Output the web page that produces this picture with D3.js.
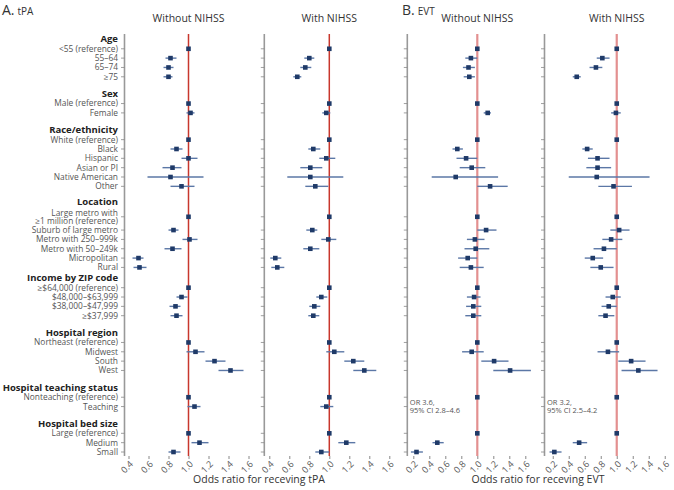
<!DOCTYPE html>
<html><head><meta charset="utf-8">
<script src="https://cdn.jsdelivr.net/npm/d3@7"></script>
<style>body{margin:0;background:#fff}svg{display:block;font-family:"Open Sans",sans-serif}</style>
</head><body>
<svg id="chart" width="674" height="490"></svg>
<script>
// ---------- DATA ----------
const groups = ["Age","Sex","Race/ethnicity","Location","Income by ZIP code","Hospital region","Hospital teaching status","Hospital bed size"];
const items = ["<55 (reference)","55–64","65–74","≥75",
  "Male (reference)","Female",
  "White (reference)","Black","Hispanic","Asian or PI","Native American","Other",
  "Large metro with\n≥1 million (reference)","Suburb of large metro","Metro with 250–999k","Metro with 50–249k","Micropolitan","Rural",
  "≥$64,000 (reference)","$48,000–$63,999","$38,000–$47,999","≥$37,999",
  "Northeast (reference)","Midwest","South","West",
  "Nonteaching (reference)","Teaching",
  "Large (reference)","Medium","Small"];
const itemGroup = [0,0,0,0, 1,1, 2,2,2,2,2,2, 3,3,3,3,3,3, 4,4,4,4, 5,5,5,5, 6,6, 7,7,7];

// tPA without NIHSS
const tpaWoOR = [1,0.82,0.80,0.80, 1,1.02, 1,0.88,1.00,0.84,0.82,0.93, 1,0.85,1.01,0.84,0.50,0.51, 1,0.93,0.87,0.88, 1,1.07,1.26,1.42, 1,1.06, 1,1.11,0.85];
const tpaWoLo = [null,0.77,0.75,0.75, null,0.98, null,0.82,0.93,0.74,0.59,0.82, null,0.80,0.94,0.76,0.44,0.45, null,0.88,0.81,0.82, null,0.98,1.17,1.30, null,0.99, null,1.03,0.80];
const tpaWoHi = [null,0.88,0.85,0.84, null,1.06, null,0.94,1.09,0.93,1.15,1.06, null,0.90,1.09,0.93,0.55,0.58, null,0.99,0.92,0.94, null,1.16,1.37,1.55, null,1.12, null,1.20,0.92];
// tPA with NIHSS
const tpaWiOR = [1,0.80,0.76,0.68, 1,0.97, 1,0.84,0.97,0.81,0.81,0.86, 1,0.83,0.99,0.81,0.46,0.48, 1,0.92,0.85,0.84, 1,1.05,1.24,1.35, 1,0.97, 1,1.17,0.92];
const tpaWiLo = [null,0.75,0.71,0.64, null,0.93, null,0.79,0.90,0.71,0.58,0.76, null,0.77,0.92,0.74,0.41,0.42, null,0.87,0.80,0.79, null,0.97,1.15,1.24, null,0.91, null,1.09,0.86];
const tpaWiHi = [null,0.85,0.82,0.72, null,1.01, null,0.91,1.06,0.93,1.14,0.99, null,0.88,1.07,0.90,0.52,0.55, null,0.98,0.91,0.90, null,1.15,1.35,1.47, null,1.04, null,1.26,1.00];
// EVT without NIHSS
const evtWoOR = [1,0.92,0.89,0.90, 1,1.13, 1,0.75,0.86,0.93,0.73,1.16, 1,1.11,0.97,0.98,0.88,0.92, 1,0.96,0.95,0.95, 1,0.93,1.21,1.41, 1,null, 1,0.50,0.24];
const evtWoLo = [null,0.85,0.82,0.83, null,1.08, null,0.69,0.74,0.78,0.43,1.00, null,1.00,0.87,0.84,0.76,0.78, null,0.87,0.86,0.85, null,0.81,1.05,1.20, null,null, null,0.44,0.17];
const evtWoHi = [null,1.00,0.97,0.97, null,1.17, null,0.82,1.00,1.10,1.26,1.38, null,1.24,1.09,1.15,1.00,1.08, null,1.04,1.05,1.05, null,1.08,1.39,1.67, null,null, null,0.58,0.32];
// EVT with NIHSS
const evtWiOR = [1,0.82,0.74,0.50, 1,0.99, 1,0.63,0.76,0.76,0.75,0.96, 1,1.03,0.93,0.84,0.70,0.80, 1,0.95,0.90,0.86, 1,0.89,1.18,1.27, 1,null, 1,0.53,0.22];
const evtWiLo = [null,0.75,0.66,0.45, null,0.93, null,0.57,0.64,0.62,0.40,0.77, null,0.92,0.82,0.71,0.60,0.67, null,0.86,0.81,0.77, null,0.76,1.02,1.06, null,null, null,0.45,0.16];
const evtWiHi = [null,0.91,0.82,0.55, null,1.05, null,0.70,0.91,0.93,1.41,1.19, null,1.16,1.07,1.00,0.83,0.96, null,1.05,1.00,0.97, null,1.03,1.36,1.51, null,null, null,0.63,0.31];
// off-scale annotations (Teaching row, EVT)
const evtWoNote = ["OR 3.6,","95% CI 2.8–4.6"];
const evtWiNote = ["OR 3.2,","95% CI 2.5–4.2"];

const tpaTicks = [0.4,0.6,0.8,1.0,1.2,1.4,1.6];
const evtTicks = [0.2,0.4,0.6,0.8,1.0,1.2,1.4,1.6];
const panelTitles = ["Without NIHSS","With NIHSS","Without NIHSS","With NIHSS"];
const xTitles = ["Odds ratio for receving tPA","Odds ratio for receving EVT"];

// ---------- LAYOUT ----------
const svg = d3.select("#chart");
const labelX = 118;
const yTop = 34, yBottom = 456;

// raw vertical layout (units), mapped to pixels with a linear scale
const headerRaw = [], itemRaw = [];
{
  let y = 0;
  let prevTwoLine = false;
  groups.forEach((g, gi) => {
    if (gi > 0) y += (gi === 3 ? 15 : gi === 4 ? 10.5 : 17);
    headerRaw.push(y);
    let first = true;
    items.forEach((it, i) => {
      if (itemGroup[i] !== gi) return;
      const two = it.includes("\n");
      if (first) y += two ? 15.5 : 9.8;
      else y += prevTwoLine ? 13.3 : 9.35;
      itemRaw.push(y);
      prevTwoLine = two; first = false;
    });
  });
}
const yS = d3.scaleLinear().domain([0, itemRaw[itemRaw.length-1]]).range([39, 452]);

// headers
svg.append("g").selectAll("text").data(groups).join("text")
  .attr("x", labelX).attr("y", (d,i)=>yS(headerRaw[i])).attr("dy","0.35em")
  .attr("text-anchor","end").attr("font-size",9.5).attr("font-weight",700).attr("fill","#222")
  .text(d=>d);

// item labels
const lab = svg.append("g").selectAll("text").data(items).join("text")
  .attr("text-anchor","end").attr("font-size",8.4).attr("fill","#555")
  .attr("x", labelX).attr("y",(d,i)=>yS(itemRaw[i]));
lab.each(function(d,i){
  const lines = d.split("\n");
  const t = d3.select(this);
  lines.forEach((ln,k)=>{
    t.append("tspan").attr("x",labelX)
     .attr("dy", k===0 ? ((0.35 - (lines.length-1)*0.5)+"em") : "1.0em")
     .text(ln);
  });
});

// panels
const panels = [
  {left:124.5, lo:0.36, hi:1.66, ticks:tpaTicks, or:tpaWoOR, l:tpaWoLo, h:tpaWoHi, ref:"#c8372d", refW:1.5, note:null},
  {left:264.3, lo:0.35, hi:1.65, ticks:tpaTicks, or:tpaWiOR, l:tpaWiLo, h:tpaWiHi, ref:"#c8372d", refW:1.5, note:null},
  {left:407.3, lo:0.125, hi:1.75, ticks:evtTicks, or:evtWoOR, l:evtWoLo, h:evtWoHi, ref:"#e39090", refW:2.2, note:evtWoNote},
  {left:544.5, lo:0.097, hi:1.722, ticks:evtTicks, or:evtWiOR, l:evtWiLo, h:evtWiHi, ref:"#e39090", refW:2.2, note:evtWiNote}
];
const W = 130;

panels.forEach((p, pi) => {
  const x = d3.scaleLinear().domain([p.lo, p.hi]).range([p.left, p.left + W]);
  const g = svg.append("g");
  // panel title
  g.append("text").attr("x", x(1)).attr("y", 22).attr("text-anchor","middle")
    .attr("font-size",10.5).attr("fill","#333").text(panelTitles[pi]);
  // y axis line
  g.append("line").attr("x1",p.left).attr("x2",p.left).attr("y1",yTop).attr("y2",yBottom)
    .attr("stroke","#999").attr("stroke-width",1.6);
  // y ticks
  g.selectAll(".yt").data(items).join("line")
    .attr("x1",p.left-3.5).attr("x2",p.left).attr("y1",(d,i)=>yS(itemRaw[i])).attr("y2",(d,i)=>yS(itemRaw[i]))
    .attr("stroke","#888").attr("stroke-width",0.8);
  // x axis ticks and labels
  const xa = d3.axisBottom(x).tickValues(p.ticks).tickSize(3).tickFormat(d3.format(".1f"));
  const ax = g.append("g").attr("transform",`translate(0,${yBottom})`).call(xa);
  ax.select(".domain").remove();
  ax.selectAll(".tick line").attr("stroke","#888");
  ax.selectAll(".tick text").attr("font-size",9).attr("fill","#555").attr("font-family","Open Sans, sans-serif")
    .attr("text-anchor","end").attr("dy",null).attr("y",null)
    .attr("transform","translate(3,7) rotate(-45)").attr("dominant-baseline","middle");
  // reference line
  g.append("line").attr("x1",x(1)).attr("x2",x(1)).attr("y1",yTop).attr("y2",yBottom)
    .attr("stroke",p.ref).attr("stroke-width",p.refW);
  // CI lines
  g.selectAll(".ci").data(items.map((d,i)=>i).filter(i=>p.l[i]!=null)).join("line")
    .attr("x1",i=>x(p.l[i])).attr("x2",i=>x(p.h[i])).attr("y1",i=>yS(itemRaw[i])).attr("y2",i=>yS(itemRaw[i]))
    .attr("stroke","#5b77a6").attr("stroke-width",1.4);
  // points
  const s = 4.6;
  g.selectAll(".pt").data(items.map((d,i)=>i).filter(i=>p.or[i]!=null)).join("rect")
    .attr("x",i=>x(p.or[i])-s/2).attr("y",i=>yS(itemRaw[i])-s/2).attr("width",s).attr("height",s)
    .attr("fill","#1f3a68");
  // notes
  if (p.note) {
    const ti = items.indexOf("Teaching");
    g.append("text").attr("x",p.left+2.5).attr("y",yS(itemRaw[ti])-1).attr("font-size",7.5).attr("fill","#555")
      .selectAll("tspan").data(p.note).join("tspan").attr("x",p.left+2.5).attr("dy",(d,k)=>k===0?"-0.1em":"1.1em").text(d=>d);
  }
});

// axis titles
svg.append("text").attr("x",259).attr("y",483).attr("text-anchor","middle").attr("font-size",10.5).attr("fill","#333").text(xTitles[0]);
svg.append("text").attr("x",538).attr("y",483).attr("text-anchor","middle").attr("font-size",10.5).attr("fill","#333").text(xTitles[1]);

// panel letters
function letter(xp, big, small){
  const t = svg.append("text").attr("x",xp).attr("y",14.5).attr("fill","#333");
  t.append("tspan").attr("font-size",14).text(big);
  t.append("tspan").attr("font-size",10).attr("dx",3).text(small);
}
letter(2,"A.","tPA");
letter(402,"B.","EVT");
</script>
</body></html>
